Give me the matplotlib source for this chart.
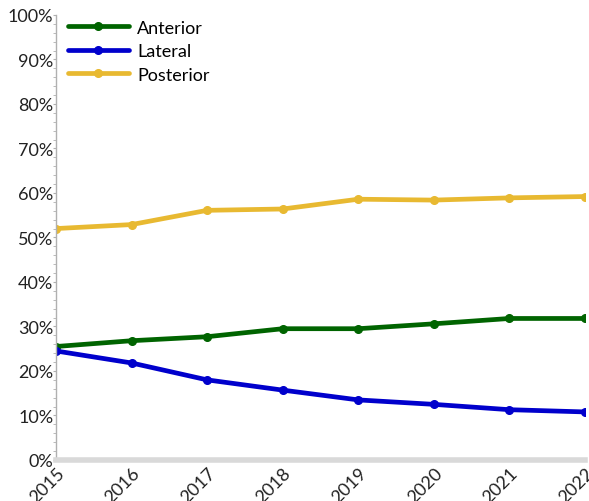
import matplotlib
matplotlib.use("Agg")
import matplotlib.pyplot as plt
from matplotlib.ticker import MultipleLocator, PercentFormatter

years = [2015, 2016, 2017, 2018, 2019, 2020, 2021, 2022]
anterior = [25.5, 26.8, 27.7, 29.5, 29.5, 30.6, 31.8, 31.8]
lateral = [24.5, 21.8, 18.0, 15.7, 13.5, 12.5, 11.3, 10.8]
posterior = [52.0, 52.9, 56.1, 56.4, 58.6, 58.4, 58.9, 59.2]

series = [
    ("Anterior", anterior, "#006400"),
    ("Lateral", lateral, "#0000cc"),
    ("Posterior", posterior, "#e8b931"),
]

plt.rcParams['font.family'] = ['Lato', 'DejaVu Sans']

fig = plt.figure(figsize=(5.89, 5.02), dpi=100)
ax = fig.add_axes([0.0951, 0.0817, 0.8981, 0.8865])

for name, vals, color in series:
    ax.plot(years, vals, color=color, lw=3.4, marker='o', ms=5.5, label=name,
            solid_capstyle='round')

ax.set_xlim(2015, 2022)
ax.set_ylim(0, 100)
ax.yaxis.set_major_locator(MultipleLocator(10))
ax.yaxis.set_minor_locator(MultipleLocator(2))
ax.yaxis.set_major_formatter(PercentFormatter(decimals=0))
ax.set_xticks(years)
ax.set_xticklabels([str(y) for y in years], rotation=45, ha='right',
                   rotation_mode='anchor')

for s in ['top', 'right']:
    ax.spines[s].set_visible(False)
ax.spines['left'].set_color('#b0b0b0')
ax.spines['left'].set_linewidth(1)
ax.spines['bottom'].set_color('#d9d9d9')
ax.spines['bottom'].set_linewidth(4)
ax.tick_params(axis='y', which='major', length=2, color='#b0b0b0',
               labelsize=13, labelcolor='#222222', pad=0)
ax.tick_params(axis='y', which='minor', length=2, color='#b0b0b0')
ax.tick_params(axis='x', length=0, labelsize=13, labelcolor='#222222', pad=3)

leg = ax.legend(loc='upper left', bbox_to_anchor=(0.005, 1.01), frameon=False,
                fontsize=13, handlelength=3.4, labelspacing=0.42,
                handletextpad=0.45, borderaxespad=0.1)

fig.savefig("out.png", dpi=100)
